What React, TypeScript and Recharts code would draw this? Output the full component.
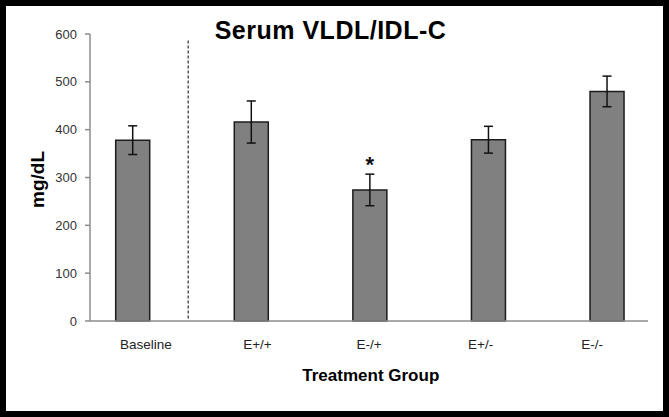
import React from 'react';
import { Bar, BarChart, ErrorBar, LabelList, ReferenceLine, XAxis, YAxis } from 'recharts';

const groups = ['Baseline', 'E+/+', 'E-/+', 'E+/-', 'E-/-'];
const positions = [0, 1, 2, 3, 4];
const means = [378, 416, 274, 379, 480];
const sems = [30, 44, 33, 28, 32];
const marks = ['', '', '*', '', ''];
const yTicks = [0, 100, 200, 300, 400, 500, 600];

const data = groups.map((group, i) => ({
  group,
  pos: positions[i],
  mean: means[i],
  sem: sems[i],
  mark: marks[i],
}));

const font = '"Liberation Sans", Arial, sans-serif';

export default function App() {
  return (
    <div style={frame}>
      <BarChart
        width={669}
        height={417}
        data={data}
        margin={{ top: 34, right: 21, bottom: 66, left: 1 }}
      >
        <XAxis xAxisId="num" type="number" dataKey="pos" domain={[-0.3626, 4.343]} allowDataOverflow hide />
        <XAxis
          xAxisId="cat"
          type="category"
          dataKey="group"
          height={30}
          interval={0}
          tickLine={false}
          tickSize={0}
          tickMargin={18}
          axisLine={{ stroke: '#8c8c8c', strokeWidth: 1.5 }}
          tick={{ fontSize: 13.5, fill: '#222', fontFamily: font }}
        />
        <YAxis
          type="number"
          domain={[0, 600]}
          ticks={yTicks}
          width={89}
          tickSize={5}
          tickMargin={8}
          axisLine={{ stroke: '#8c8c8c', strokeWidth: 1.5 }}
          tickLine={{ stroke: '#8c8c8c', strokeWidth: 1.5 }}
          tick={{ fontSize: 13, fill: '#333', fontFamily: font }}
          label={{
            value: 'mg/dL',
            angle: -90,
            position: 'center',
            dx: -8,
            dy: 2,
            style: { fontSize: 19, fontWeight: 700, fill: '#000', fontFamily: font },
          }}
        />
        <ReferenceLine
          xAxisId="num"
          segment={[
            { x: 0.466, y: 5 },
            { x: 0.466, y: 588 },
          ]}
          stroke="#555"
          strokeWidth={1.5}
          strokeDasharray="3 2"
          ifOverflow="visible"
        />
        <Bar
          xAxisId="num"
          dataKey="mean"
          barSize={34}
          fill="#808080"
          stroke="#1c1c1c"
          strokeWidth={1.5}
          isAnimationActive={false}
        >
          <ErrorBar dataKey="sem" direction="y" width={4.5} stroke="#111" strokeWidth={1.5} />
          <LabelList
            dataKey="mark"
            position="top"
            offset={18}
            style={{ fontSize: 22, fontWeight: 700, fill: '#111', fontFamily: font }}
          />
        </Bar>
      </BarChart>
      <svg width={669} height={417} style={overlay}>
        <text
          x={330.5}
          y={39}
          textAnchor="middle"
          fontSize={25}
          fontWeight={700}
          fontFamily={font}
          fill="#000"
          letterSpacing="0.5"
        >
          Serum VLDL/IDL-C
        </text>
        <text x={370.8} y={380.7} textAnchor="middle" fontSize={17} fontWeight={700} fontFamily={font} fill="#000">
          Treatment Group
        </text>
        <rect x={0} y={0} width={669} height={417} fill="none" stroke="#000" strokeWidth={12} />
      </svg>
    </div>
  );
}

const frame: React.CSSProperties = {
  position: 'absolute',
  left: 0,
  top: 0,
  width: 669,
  height: 417,
  background: '#fff',
};

const overlay: React.CSSProperties = {
  position: 'absolute',
  left: 0,
  top: 0,
  pointerEvents: 'none',
};
